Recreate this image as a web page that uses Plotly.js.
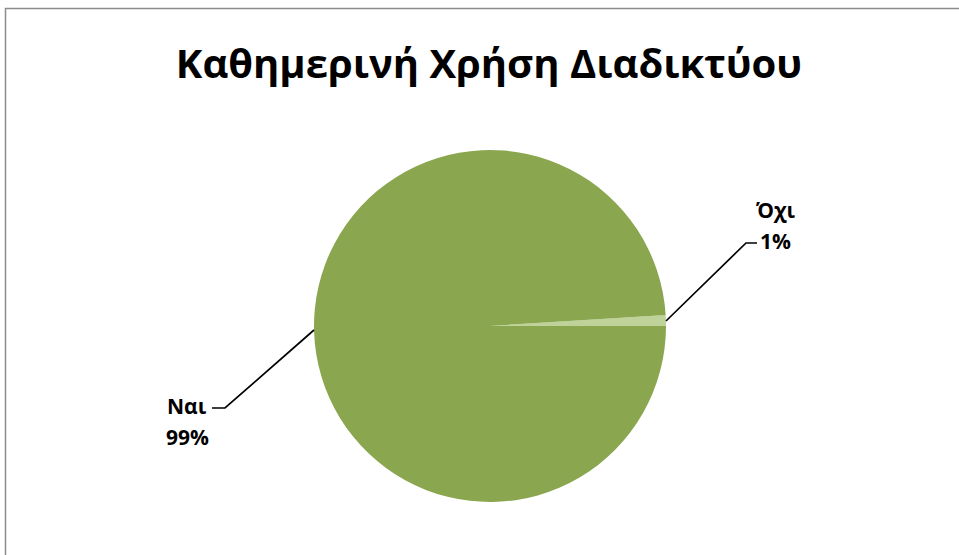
<!DOCTYPE html>
<html>
<head>
<meta charset="utf-8">
<script src="https://cdn.plot.ly/plotly-3.0.1.min.js"></script>
<style>
html,body{margin:0;padding:0;background:#fff;}
#chart{width:959px;height:555px;}
</style>
</head>
<body>
<div id="chart"></div>
<script>
var categories = ["Όχι", "Ναι"];
var values = [1, 99];
var percentLabels = ["1%", "99%"];
var colors = ["#BED29A", "#8AA64F"];

var W = 959, H = 555;
function px(x){ return x / W; }
function py(y){ return 1 - y / H; }

var font = "'Open Sans', 'Noto Sans', 'DejaVu Sans', sans-serif";

var data = [{
  type: "pie",
  labels: categories,
  values: values,
  sort: false,
  direction: "clockwise",
  rotation: 86.4,
  marker: { colors: colors, line: { width: 0 } },
  textinfo: "none",
  hoverinfo: "label+percent",
  showlegend: false,
  domain: { x: [px(314), px(666)], y: [py(502), py(150)] }
}];

var annotations = [
  { text: "<b>" + categories[0] + "</b>", x: px(775), y: py(210), xanchor: "center", yanchor: "middle" },
  { text: "<b>" + percentLabels[0] + "</b>", x: px(775), y: py(241), xanchor: "center", yanchor: "middle" },
  { text: "<b>" + categories[1] + "</b>", x: px(187), y: py(406), xanchor: "center", yanchor: "middle" },
  { text: "<b>" + percentLabels[1] + "</b>", x: px(187), y: py(437), xanchor: "center", yanchor: "middle" }
].map(function(a){
  a.xref = "paper"; a.yref = "paper"; a.showarrow = false;
  a.font = { family: font, size: 21, color: "#000" };
  return a;
});

function pathPx(pts){
  return pts.map(function(p, i){ return (i ? "L" : "M") + px(p[0]) + "," + py(p[1]); }).join(" ");
}

var shapes = [
  { type: "path", xref: "paper", yref: "paper",
    path: pathPx([[666, 321], [746, 243], [757, 243]]),
    line: { color: "#000", width: 1.7 } },
  { type: "path", xref: "paper", yref: "paper",
    path: pathPx([[314, 330], [225, 408], [212, 408]]),
    line: { color: "#000", width: 1.7 } },
  { type: "rect", xref: "paper", yref: "paper",
    x0: px(5.5), x1: 1.2, y0: -0.2, y1: py(8.5),
    line: { color: "#8c8c8c", width: 1.5 }, fillcolor: "rgba(0,0,0,0)" }
];

var layout = {
  width: W, height: H,
  margin: { l: 0, r: 0, t: 0, b: 0 },
  paper_bgcolor: "#fff",
  title: {
    text: "<b>Καθημερινή Χρήση Διαδικτύου</b>",
    x: px(489), xanchor: "center",
    y: py(64), yanchor: "middle",
    font: { family: font, size: 40, color: "#000" }
  },
  annotations: annotations,
  shapes: shapes
};

Plotly.newPlot("chart", data, layout, { displayModeBar: false, staticPlot: true });
</script>
</body>
</html>
